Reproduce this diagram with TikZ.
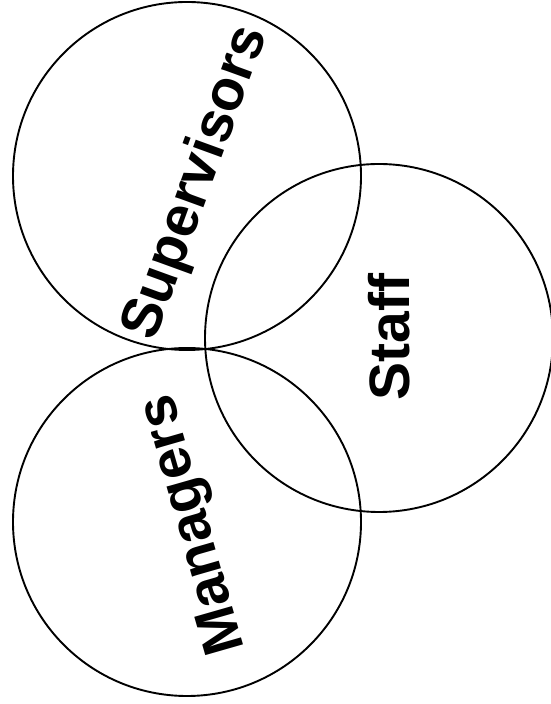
\documentclass[tikz,border=0pt]{standalone}
\usepackage{fontspec}
\setmainfont{Liberation Sans}
\tikzset{
  set/.style={draw=black, line width=1.9pt},
  setlabel/.style={font=\bfseries\fontsize{57}{60}\selectfont, inner sep=0pt}
}
\begin{document}
\begin{tikzpicture}[x=1pt, y=1pt]
  \useasboundingbox (0,0) rectangle (550,704);

  \coordinate (SupC) at (187, 528);
  \coordinate (StaffC) at (379, 366);
  \coordinate (ManC) at (187, 182);

  \draw[set] (SupC) circle (174);
  \draw[set] (StaffC) circle (174);
  \draw[set] (ManC) circle (174);

  \node[setlabel, rotate=70] (sup) at (197, 521) {Supervisors};
  \node[setlabel, rotate=90] (staff) at (389, 367) {Staff};
  \node[setlabel, rotate=106] (man) at (195, 180) {Managers};
\end{tikzpicture}
\end{document}
